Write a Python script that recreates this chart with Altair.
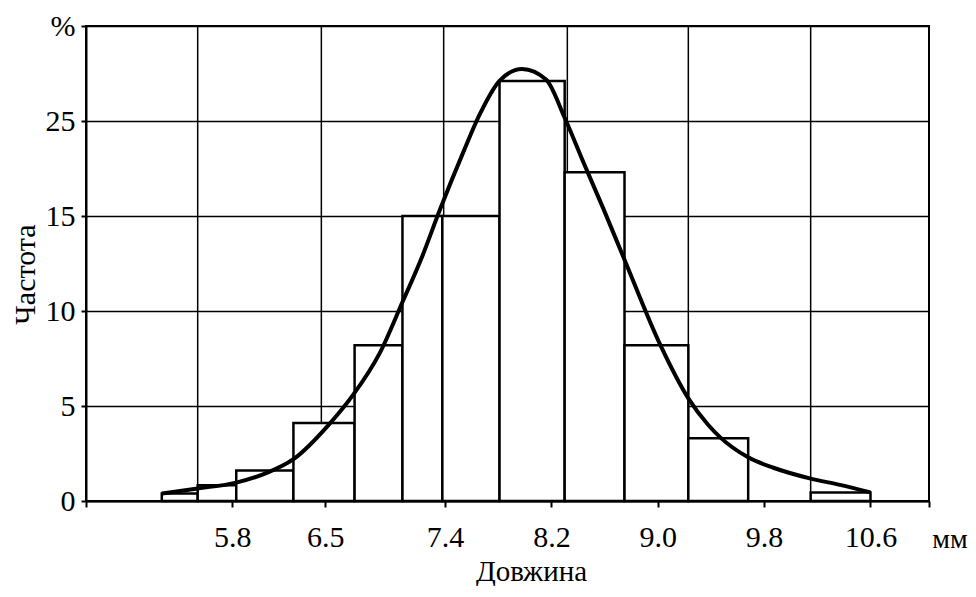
import altair as alt
import pandas as pd

# Histogram bins (mm) and frequencies (%)
bin_start = [5.27, 5.54, 5.83, 6.26, 6.72, 7.08, 7.38, 7.81, 8.30, 8.75, 9.23, 10.15]
bin_end = [5.54, 5.83, 6.26, 6.72, 7.08, 7.38, 7.81, 8.30, 8.75, 9.23, 9.68, 10.60]
freq = [0.4, 0.83, 1.6, 4.1, 8.2, 15.0, 15.0, 22.1, 17.3, 8.2, 3.3, 0.45]

# Fitted curve
curve_x = [5.27, 5.54, 5.83, 6.06, 6.26, 6.53, 6.71, 6.91, 7.08, 7.23, 7.36,
           7.54, 7.66, 7.81, 7.98, 8.16, 8.30, 8.44, 8.59, 8.75, 9.02, 9.23, 9.38,
           9.47, 9.68, 9.87, 10.15, 10.37, 10.60]
curve_y = [0.39, 0.66, 0.97, 1.48, 2.2, 4.05, 5.6, 7.8, 10.47, 12.9, 15.3,
           18.4, 20.33, 22.11, 22.74, 22.18, 20.17, 17.84, 15.4, 12.7, 8.2, 5.4, 4.0,
           3.35, 2.3, 1.75, 1.18, 0.85, 0.45]

# Axis ticks / grid
x_ticks = [4.7, 5.8, 6.5, 7.4, 8.2, 9.0, 9.8, 10.6, 11.04]
grid_x = [5.54, 6.47, 7.39, 8.32, 9.23, 10.15]
y_ticks = [0, 5, 10, 15, 20, 25]

FONT = "Liberation Serif"

bars_df = pd.DataFrame({"start": bin_start, "end": bin_end, "freq": freq})
curve_df = pd.DataFrame({"x": curve_x, "y": curve_y})
grid_df = pd.DataFrame({"gx": grid_x})

xscale = alt.Scale(domain=[4.7, 11.04], nice=False, zero=False)
yscale = alt.Scale(domain=[0, 25], nice=False)

x_axis = alt.Axis(
    values=x_ticks,
    labelExpr="datum.value < 5 || datum.value > 11 ? '' : format(datum.value, '.1f')",
    grid=False,
    title="Довжина",
    titleX=445,
    titleY=70,
    titleAlign="center",
    titleBaseline="middle",
    titleFontSize=29,
    labelPadding=15,
    tickSize=6,
)
y_axis = alt.Axis(
    values=y_ticks,
    labelExpr="datum.value == 25 ? '%' : datum.value == 20 ? '25' : datum.label",
    grid=True,
    title="Частота",
    titleX=-61,
    titleY=248,
    titleAlign="center",
    titleBaseline="middle",
    titleAngle=-90,
    labelPadding=6,
    tickSize=5,
)

grid = alt.Chart(grid_df).mark_rule(color="black", strokeWidth=1.5).encode(
    x=alt.X("gx:Q", scale=xscale, axis=x_axis)
)

bars = alt.Chart(bars_df).mark_rect(
    fill="white", stroke="black", strokeWidth=2.5
).encode(
    x=alt.X("start:Q", scale=xscale, axis=x_axis),
    x2="end:Q",
    y=alt.Y("freq:Q", scale=yscale, axis=y_axis),
    y2=alt.datum(0),
)

curve = alt.Chart(curve_df).mark_line(
    color="black", strokeWidth=4, interpolate="monotone"
).encode(
    x=alt.X("x:Q", scale=xscale),
    y=alt.Y("y:Q", scale=yscale),
)

unit = alt.Chart(pd.DataFrame({"t": ["мм"]})).mark_text(
    font=FONT, fontSize=28, color="black", align="center", baseline="middle"
).encode(text="t:N", x=alt.value(864), y=alt.value(514))

chart = alt.layer(grid, bars, curve, unit).properties(
    width=843,
    height=475,
    autosize=alt.AutoSizeParams(type="none"),
    padding={"left": 78, "top": 18, "right": 39, "bottom": 85},
    background="white",
).configure_view(
    stroke="black", strokeWidth=2
).configure_axis(
    labelFont=FONT,
    labelFontSize=30,
    labelColor="black",
    titleFont=FONT,
    titleFontSize=30,
    titleFontWeight="normal",
    titleColor="black",
    domainColor="black",
    domainWidth=2,
    tickColor="black",
    tickWidth=2,
    gridColor="black",
    gridWidth=1.5,
    gridOpacity=1,
)

chart.save("out.html", embed_options={"renderer": "svg", "actions": False})
